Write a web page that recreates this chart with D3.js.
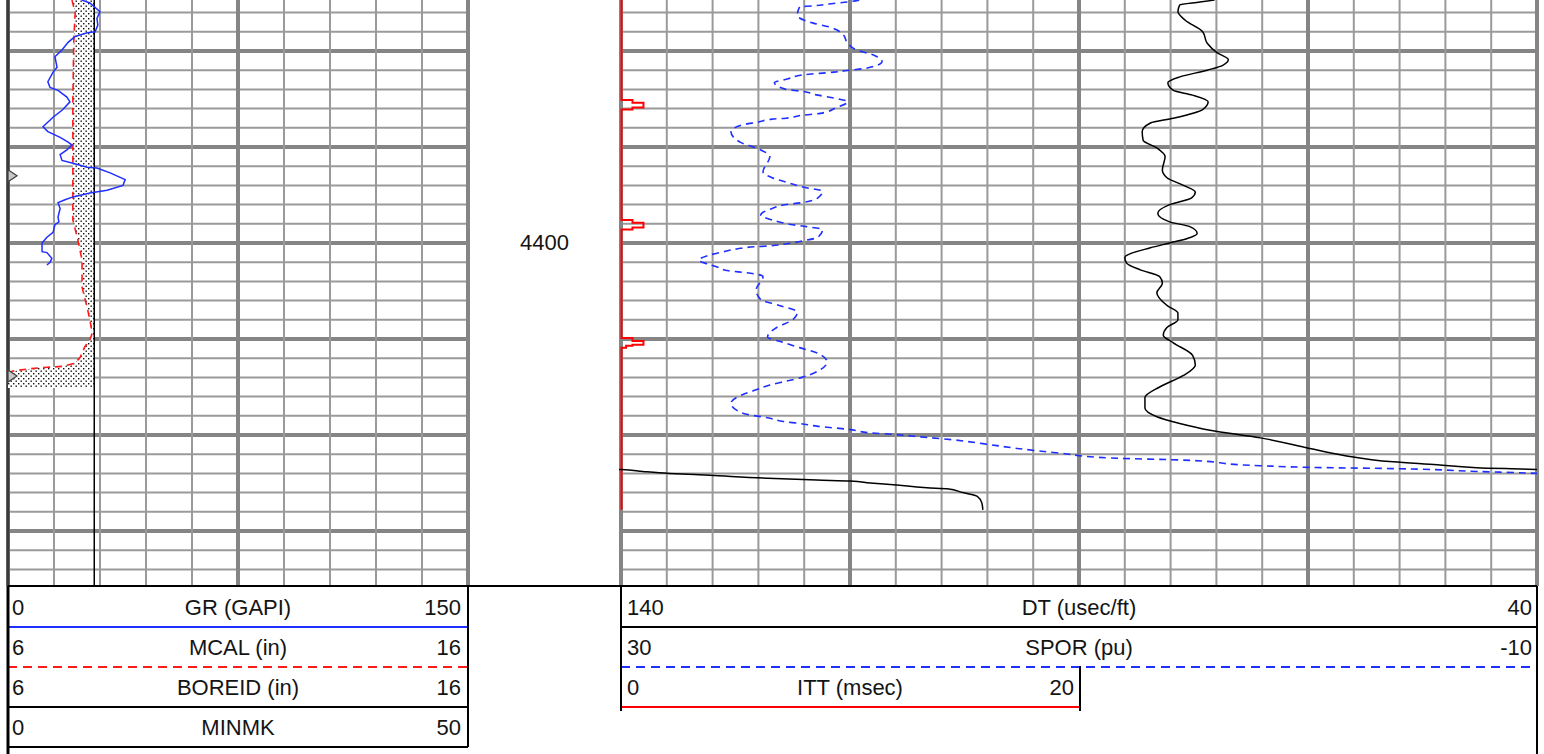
<!DOCTYPE html>
<html>
<head>
<meta charset="utf-8">
<script src="https://cdn.jsdelivr.net/npm/d3@7"></script>
<style>
  html, body { margin: 0; padding: 0; background: #fff; }
  svg { display: block; }
  .hdr { font-family: "Liberation Sans", Arial, sans-serif; font-size: 22px; fill: #141414; }
</style>
</head>
<body>
<div id="log"></div>
<script>
'use strict';

// depth window shown (ft)
var depthTop = 4374.69;
var depthBottom = 4435.73;
var depthLabelStep = 50;

// [depth, value] pairs
var grData = [
  [4374.7, 24.1], [4375.0, 26.7], [4375.9, 30.0], [4376.6, 29.0], [4377.3, 29.3], [4378.0, 28.4],
  [4378.1, 25.8], [4378.5, 21.8], [4379.1, 19.6], [4379.9, 17.6], [4380.6, 15.3], [4381.7, 16.0],
  [4382.2, 14.7], [4383.2, 13.0], [4383.8, 13.7], [4384.1, 16.3], [4384.8, 19.2], [4385.3, 20.2],
  [4386.1, 17.9], [4386.9, 14.7], [4387.9, 11.4], [4388.4, 13.0], [4389.0, 17.0], [4389.5, 19.6],
  [4389.8, 20.9], [4390.3, 19.2], [4390.8, 17.0], [4391.4, 17.6], [4391.7, 21.2], [4392.1, 25.8],
  [4392.2, 29.0], [4392.7, 33.3], [4393.4, 38.2], [4394.0, 37.5], [4394.5, 32.3], [4394.8, 26.7],
  [4395.2, 21.2], [4395.5, 18.6], [4395.8, 16.3], [4396.4, 17.0], [4397.3, 16.3], [4397.8, 16.6],
  [4398.1, 15.3], [4398.9, 14.7], [4399.4, 12.7], [4400.0, 11.1], [4400.9, 11.1], [4401.0, 12.7],
  [4401.6, 14.3], [4402.0, 13.7], [4402.3, 12.7]
];

var mcalData = [
  [4374.7, 7.39], [4376.0, 7.46], [4378.9, 7.43], [4385.1, 7.41], [4395.5, 7.41], [4397.6, 7.41],
  [4399.7, 7.52], [4401.8, 7.61], [4404.6, 7.61], [4406.7, 7.72], [4408.0, 7.78], [4409.4, 7.83],
  [4410.1, 7.78], [4410.8, 7.67], [4411.9, 7.57], [4412.5, 7.46], [4412.85, 7.20], [4412.95, 6.85],
  [4413.1, 6.48], [4413.3, 6.15], [4413.6, 5.9], [4415.1, 5.8]
];

var boreid = 7.875;

var minmkDepths = [4393.0, 4413.85];

var dtData = [
  [4374.7, 75.2], [4374.9, 76.8], [4375.2, 79.0], [4375.9, 79.2], [4376.8, 78.4], [4378.0, 76.5],
  [4379.2, 76.0], [4380.2, 74.9], [4380.9, 73.7], [4381.5, 74.3], [4382.0, 76.0], [4382.7, 79.0],
  [4383.3, 80.3], [4384.1, 79.7], [4384.6, 77.6], [4385.3, 75.9], [4386.1, 76.5], [4387.0, 79.7],
  [4387.5, 82.2], [4388.4, 83.1], [4389.3, 83.0], [4390.1, 81.5], [4391.0, 80.6], [4392.4, 80.9],
  [4393.2, 80.4], [4394.0, 78.6], [4394.7, 77.3], [4395.3, 77.7], [4396.0, 80.1], [4396.9, 81.4],
  [4397.8, 80.1], [4398.3, 77.9], [4399.0, 77.1], [4399.5, 78.1], [4400.0, 80.1], [4400.5, 82.2],
  [4401.5, 85.0], [4402.1, 84.8], [4402.8, 83.3], [4403.5, 81.2], [4404.2, 80.9], [4405.2, 81.5],
  [4406.5, 80.4], [4407.3, 79.2], [4408.0, 79.2], [4408.8, 80.4], [4409.6, 80.8], [4410.4, 79.7],
  [4411.7, 77.6], [4412.7, 77.3], [4413.8, 78.6], [4415.0, 81.2], [4416.1, 82.8], [4417.2, 82.8],
  [4418.1, 81.5], [4418.8, 79.0], [4419.5, 75.7], [4420.3, 70.2], [4421.4, 64.8], [4422.1, 61.2],
  [4422.8, 55.7], [4423.1, 50.9], [4423.4, 46.6], [4423.6, 40.0], [4423.8, 37.6], [4424.0, 34.7],
  [4424.2, 30.3], [4424.5, 24.1], [4424.7, 18.6], [4424.8, 15.0], [4425.0, 12.8], [4425.2, 9.9],
  [4425.5, 6.6], [4425.6, 4.4], [4426.0, 2.7], [4426.4, 1.1], [4427.1, 0.6], [4427.8, 0.5]
];

var sporData = [
  [4374.7, 19.6], [4374.9, 20.1], [4375.1, 20.9], [4375.3, 21.6], [4375.4, 22.2], [4376.3, 22.3],
  [4377.1, 21.6], [4377.5, 20.9], [4378.3, 20.3], [4379.2, 20.1], [4379.9, 19.7], [4380.4, 19.0],
  [4381.1, 18.6], [4381.8, 19.3], [4382.0, 20.0], [4382.2, 20.7], [4382.5, 22.1], [4382.9, 22.7],
  [4383.3, 23.3], [4384.0, 22.8], [4384.2, 22.1], [4384.6, 21.4], [4384.9, 20.7], [4385.3, 20.1],
  [4385.9, 20.6], [4386.5, 21.3], [4386.7, 22.1], [4387.0, 22.8], [4387.1, 23.4], [4387.4, 24.0],
  [4387.7, 24.7], [4388.4, 25.2], [4389.5, 24.8], [4390.1, 24.1], [4391.0, 23.5], [4392.6, 23.8],
  [4393.2, 23.4], [4393.8, 22.6], [4394.2, 22.0], [4394.6, 21.2], [4395.3, 21.4], [4395.8, 22.1],
  [4396.0, 22.8], [4396.4, 23.4], [4397.1, 23.9], [4397.6, 23.4], [4398.1, 22.5], [4398.3, 21.9],
  [4398.6, 21.2], [4399.4, 21.4], [4399.8, 22.1], [4400.1, 22.8], [4400.3, 23.5], [4400.4, 24.2],
  [4400.6, 24.9], [4400.9, 25.5], [4401.3, 26.2], [4401.8, 26.6], [4402.2, 26.2], [4402.5, 25.8],
  [4402.9, 25.3], [4403.1, 24.5], [4403.5, 23.8], [4404.9, 24.1], [4405.9, 23.9], [4406.5, 23.1],
  [4407.2, 22.3], [4408.0, 22.5], [4408.8, 23.2], [4409.8, 23.6], [4410.3, 23.0], [4410.9, 22.2],
  [4411.5, 21.4], [4412.4, 21.0], [4413.2, 21.3], [4414.0, 22.1], [4414.4, 22.8], [4414.8, 23.5],
  [4415.3, 24.1], [4415.8, 24.7], [4416.7, 25.2], [4417.5, 24.9], [4417.9, 24.4], [4418.2, 23.6],
  [4418.6, 22.9], [4418.8, 22.2], [4419.1, 21.4], [4419.4, 20.1], [4419.8, 19.0], [4419.9, 18.3],
  [4420.2, 16.9], [4420.5, 15.5], [4420.9, 14.2], [4421.4, 12.7], [4421.9, 10.8], [4422.4, 8.6],
  [4422.6, 5.6], [4423.2, 2.1], [4423.4, -0.7], [4423.5, -3.7], [4423.8, -7.4], [4424.0, -10.0],
  [4424.1, -10.6]
];

var ittData = [
  [4374.7, 0], [4385.1, 0.48], [4385.4, 0.96], [4385.9, 0.48], [4386.1, 0],
  [4397.6, 0.48], [4397.9, 0.96], [4398.4, 0.48], [4398.6, 0],
  [4409.9, 0.48], [4410.2, 0.96], [4410.6, 0.48], [4410.7, 0.2], [4410.9, 0],
  [4427.8, 0]
];

// header rows: [left value, name, right value]
var leftHeader = [['0', 'GR (GAPI)', '150'], ['6', 'MCAL (in)', '16'], ['6', 'BOREID (in)', '16'], ['0', 'MINMK', '50']];
var rightHeader = [['140', 'DT (usec/ft)', '40'], ['30', 'SPOR (pu)', '-10'], ['0', 'ITT (msec)', '20']];

var W = 1544, H = 754;
var plotBottom = 586;
var rowH = 40;
var leftT = { x0: 8, x1: 468 };
var rightT = { x0: 621, x1: 1537 };
var ittRight = 1079;

var svg = d3.select('#log').append('svg')
    .attr('width', W)
    .attr('height', H);

svg.append('rect').attr('width', W).attr('height', H).attr('fill', '#fff');

var y = d3.scaleLinear().domain([depthTop, depthBottom]).range([0, plotBottom]);

var xGR = d3.scaleLinear().domain([0, 150]).range([leftT.x0, leftT.x1]);
var xCal = d3.scaleLinear().domain([6, 16]).range([leftT.x0, leftT.x1]);
var xMk = d3.scaleLinear().domain([0, 50]).range([leftT.x0, leftT.x1]);
var xDT = d3.scaleLinear().domain([140, 40]).range([rightT.x0, rightT.x1]);
var xSP = d3.scaleLinear().domain([30, -10]).range([rightT.x0, rightT.x1]);
var xITT = d3.scaleLinear().domain([0, 20]).range([rightT.x0 + 0.5, ittRight]);

var defs = svg.append('defs');
defs.append('clipPath').attr('id', 'clipL')
  .append('rect').attr('x', leftT.x0).attr('y', 0).attr('width', leftT.x1 - leftT.x0).attr('height', plotBottom);
defs.append('clipPath').attr('id', 'clipR')
  .append('rect').attr('x', rightT.x0 - 2).attr('y', 0).attr('width', rightT.x1 - rightT.x0 + 2).attr('height', plotBottom);

var pat = defs.append('pattern').attr('id', 'dots')
  .attr('patternUnits', 'userSpaceOnUse').attr('width', 5).attr('height', 5);
pat.append('rect').attr('width', 5).attr('height', 5).attr('fill', '#fff');
pat.append('rect').attr('x', 0.5).attr('y', 0.5).attr('width', 1.4).attr('height', 1.4).attr('fill', '#111');
pat.append('rect').attr('x', 3).attr('y', 3).attr('width', 1.4).attr('height', 1.4).attr('fill', '#111');

// ---- grid ----
var minorDepths = d3.range(Math.ceil(depthTop / 2) * 2, depthBottom, 2);

function drawGrid(track, vTicks) {
  var g = svg.append('g');
  g.selectAll('line.h')
    .data(minorDepths)
    .enter().append('line')
    .attr('x1', track.x0).attr('x2', track.x1)
    .attr('y1', function(d) { return y(d); })
    .attr('y2', function(d) { return y(d); })
    .attr('stroke', function(d) { return d % 10 === 0 ? '#858585' : '#9a9a9a'; })
    .attr('stroke-width', function(d) { return d % 10 === 0 ? 4 : 2; });
  g.selectAll('line.v')
    .data(vTicks)
    .enter().append('line')
    .attr('x1', function(d) { return d.x; })
    .attr('x2', function(d) { return d.x; })
    .attr('y1', 0).attr('y2', plotBottom)
    .attr('stroke', function(d) { return d.major ? '#858585' : '#9a9a9a'; })
    .attr('stroke-width', function(d) { return d.major ? 4 : 2; });
}

var leftV = d3.range(0, 151, 15).map(function(v, i) {
  return { x: xGR(v), major: i % 5 === 0 };
});
var rightV = d3.range(140, 39, -5).map(function(v, i) {
  return { x: xDT(v), major: i % 5 === 0 };
});
drawGrid(leftT, leftV);
drawGrid(rightT, rightV);

// left border of first track is darker
svg.append('line')
  .attr('x1', leftT.x0).attr('x2', leftT.x0).attr('y1', 0).attr('y2', plotBottom)
  .attr('stroke', '#3a3a3a').attr('stroke-width', 3);

// ---- depth labels ----
svg.append('g').selectAll('text')
  .data(d3.range(Math.ceil(depthTop / depthLabelStep) * depthLabelStep, depthBottom, depthLabelStep))
  .enter().append('text')
  .attr('class', 'hdr')
  .attr('x', (leftT.x1 + rightT.x0) / 2)
  .attr('y', function(d) { return y(d) + 7; })
  .attr('text-anchor', 'middle')
  .text(function(d) { return d; });

// ---- track 1 curves ----
var t1 = svg.append('g').attr('clip-path', 'url(#clipL)');

t1.append('path')
  .datum(mcalData)
  .attr('d', d3.area()
    .y(function(d) { return y(d[0]); })
    .x0(function(d) { return xCal(Math.max(d[1], 6)); })
    .x1(xCal(boreid)))
  .attr('fill', 'url(#dots)');

t1.append('line')
  .attr('x1', xCal(boreid)).attr('x2', xCal(boreid))
  .attr('y1', 0).attr('y2', plotBottom)
  .attr('stroke', '#000').attr('stroke-width', 1.5);

t1.append('path')
  .datum(mcalData)
  .attr('d', d3.line()
    .x(function(d) { return xCal(d[1]); })
    .y(function(d) { return y(d[0]); }))
  .attr('fill', 'none').attr('stroke', '#ff1a1a').attr('stroke-width', 1.6)
  .attr('stroke-dasharray', '7,5');

t1.append('path')
  .datum(grData)
  .attr('d', d3.line()
    .x(function(d) { return xGR(d[1]); })
    .y(function(d) { return y(d[0]); }))
  .attr('fill', 'none').attr('stroke', '#1f2fff').attr('stroke-width', 1.5);

svg.append('g').selectAll('path')
  .data(minmkDepths)
  .enter().append('path')
  .attr('d', function(d) {
    var yy = y(d), x0 = xMk(0);
    return 'M' + x0 + ',' + (yy - 6) + 'L' + (x0 + 9) + ',' + yy + 'L' + x0 + ',' + (yy + 6) + 'Z';
  })
  .attr('fill', '#c8c8c8').attr('stroke', '#444').attr('stroke-width', 1.3);

// ---- track 2 curves ----
var t2 = svg.append('g').attr('clip-path', 'url(#clipR)');

t2.append('path')
  .datum(ittData)
  .attr('d', d3.line()
    .curve(d3.curveStepBefore)
    .x(function(d) { return xITT(d[1]); })
    .y(function(d) { return y(d[0]); }))
  .attr('fill', 'none').attr('stroke', '#ff0000').attr('stroke-width', 2);

t2.append('path')
  .datum(sporData)
  .attr('d', d3.line()
    .curve(d3.curveMonotoneY)
    .x(function(d) { return xSP(d[1]); })
    .y(function(d) { return y(d[0]); }))
  .attr('fill', 'none').attr('stroke', '#1f2fff').attr('stroke-width', 1.6)
  .attr('stroke-dasharray', '7,5');

// DT drawn on main scale and wrapped (backup) scale
[0, 100].forEach(function(shift) {
  t2.append('path')
    .datum(dtData)
    .attr('d', d3.line()
      .curve(d3.curveMonotoneY)
      .x(function(d) { return xDT(d[1] + shift); })
      .y(function(d) { return y(d[0]); }))
    .attr('fill', 'none').attr('stroke', '#000').attr('stroke-width', 1.5);
});

// ---- header ----
var hdr = svg.append('g');
var hTop = plotBottom;

hdr.append('line').attr('x1', leftT.x0).attr('x2', rightT.x1).attr('y1', hTop).attr('y2', hTop)
  .attr('stroke', '#000').attr('stroke-width', 2);

var leftStyles = [
  { color: '#1f2fff', dash: null },
  { color: '#ff1a1a', dash: '9,6' },
  { color: '#000', dash: null },
  { color: '#000', dash: null }
];
var rightStyles = [
  { color: '#000', dash: null, x1: rightT.x1 },
  { color: '#1f2fff', dash: '9,6', x1: rightT.x1 },
  { color: '#ff0000', dash: null, x1: ittRight }
];

leftHeader.forEach(function(row, i) {
  var top = hTop + i * rowH;
  hdr.append('text').attr('class', 'hdr').attr('x', leftT.x0 + 4).attr('y', top + 29).text(row[0]);
  hdr.append('text').attr('class', 'hdr').attr('x', (leftT.x0 + leftT.x1) / 2).attr('y', top + 29)
    .attr('text-anchor', 'middle').text(row[1]);
  hdr.append('text').attr('class', 'hdr').attr('x', leftT.x1 - 7).attr('y', top + 29)
    .attr('text-anchor', 'end').text(row[2]);
  hdr.append('line').attr('x1', leftT.x0).attr('x2', leftT.x1)
    .attr('y1', top + rowH + 1).attr('y2', top + rowH + 1)
    .attr('stroke', leftStyles[i].color).attr('stroke-width', 2)
    .attr('stroke-dasharray', leftStyles[i].dash);
});

rightHeader.forEach(function(row, i) {
  var top = hTop + i * rowH;
  var st = rightStyles[i];
  hdr.append('text').attr('class', 'hdr').attr('x', rightT.x0 + 6).attr('y', top + 29).text(row[0]);
  hdr.append('text').attr('class', 'hdr').attr('x', (rightT.x0 + st.x1) / 2).attr('y', top + 29)
    .attr('text-anchor', 'middle').text(row[1]);
  hdr.append('text').attr('class', 'hdr').attr('x', st.x1 - 5).attr('y', top + 29)
    .attr('text-anchor', 'end').text(row[2]);
  hdr.append('line').attr('x1', rightT.x0).attr('x2', st.x1)
    .attr('y1', top + rowH + 1).attr('y2', top + rowH + 1)
    .attr('stroke', st.color).attr('stroke-width', 2)
    .attr('stroke-dasharray', st.dash);
});

// header frame
var frame = [
  [leftT.x0, hTop, leftT.x0, H, 3],
  [leftT.x1, hTop, leftT.x1, hTop + 4 * rowH + 1, 2],
  [rightT.x0, hTop, rightT.x0, hTop + 3 * rowH + 5, 2],
  [ittRight + 1, hTop + 2 * rowH, ittRight + 1, hTop + 3 * rowH + 5, 2],
  [rightT.x1, hTop, rightT.x1, H, 2]
];
hdr.selectAll('line.frame')
  .data(frame)
  .enter().append('line')
  .attr('x1', function(d) { return d[0]; })
  .attr('y1', function(d) { return d[1]; })
  .attr('x2', function(d) { return d[2]; })
  .attr('y2', function(d) { return d[3]; })
  .attr('stroke', '#000')
  .attr('stroke-width', function(d) { return d[4]; });
</script>
</body>
</html>
